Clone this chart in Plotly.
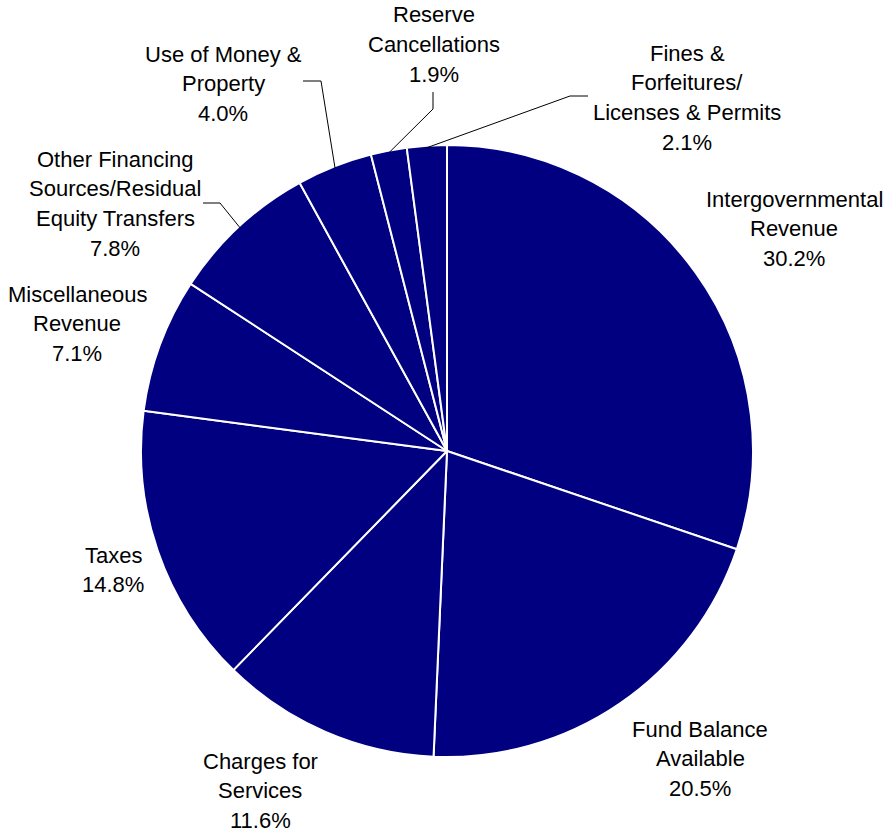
import math
import plotly.graph_objects as go

# Revenue sources, in clockwise order from 12 o'clock
categories = [
    "Intergovernmental Revenue",
    "Fund Balance Available",
    "Charges for Services",
    "Taxes",
    "Miscellaneous Revenue",
    "Other Financing Sources/Residual Equity Transfers",
    "Use of Money & Property",
    "Reserve Cancellations",
    "Fines & Forfeitures/ Licenses & Permits",
]
shares = [30.2, 20.5, 11.6, 14.8, 7.1, 7.8, 4.0, 1.9, 2.1]

# Wrapped label text (one entry per line, the percentage is appended)
label_lines = [
    ["Intergovernmental", "Revenue"],
    ["Fund Balance", "Available"],
    ["Charges for", "Services"],
    ["Taxes"],
    ["Miscellaneous", "Revenue"],
    ["Other Financing", "Sources/Residual", "Equity Transfers"],
    ["Use of Money &", "Property"],
    ["Reserve", "Cancellations"],
    ["Fines &", "Forfeitures/", "Licenses & Permits"],
]

W, H = 892, 833
CX, CY, R = 447, 451, 306          # pie centre and radius in pixels
FONT = dict(family="Arial, Liberation Sans, sans-serif", size=22, color="#000000")
LINE_STEP = 29.7

# Label block placement: centre x and first-line y, in pixels
label_pos = [
    (794, 199), (700, 729), (260, 761), (113, 555), (77, 294),
    (115, 159), (223, 54), (434, 15), (687, 53),
]
# Leader line elbows (label side) for the small slices; None = no leader
leader_elbows = [
    None, None, None, None, None,
    [(203, 203), (220, 203)],
    [(303, 81), (321, 81)],
    [(433, 92), (433, 109)],
    [(588, 96), (570, 96)],
]


def px(x):
    return x / W


def py(y):
    return 1 - y / H


fig = go.Figure(
    go.Pie(
        labels=categories,
        values=shares,
        sort=False,
        direction="clockwise",
        rotation=0,
        textinfo="none",
        marker=dict(colors=["#000080"] * len(shares), line=dict(color="#ffffff", width=2)),
        domain=dict(x=[px(CX - R), px(CX + R)], y=[py(CY + R), py(CY - R)]),
        showlegend=False,
        hovertemplate="%{label}: %{value:.1f}%<extra></extra>",
    )
)

annotations = []
shapes = []
total = sum(shares)
cum = 0.0
for name_lines, val, (lx, ly), elbow in zip(label_lines, shares, label_pos, leader_elbows):
    lines = name_lines + [f"{val:.1f}%"]
    for i, t in enumerate(lines):
        annotations.append(dict(
            x=px(lx), y=py(ly + i * LINE_STEP), xref="paper", yref="paper",
            text=t, showarrow=False, font=FONT, xanchor="center", yanchor="middle",
        ))
    mid = (cum + val / 2) / total * 2 * math.pi
    cum += val
    if elbow:
        ex = CX + (R - 2) * math.sin(mid)
        ey = CY - (R - 2) * math.cos(mid)
        pts = elbow + [(ex, ey)]
        path = "M " + " L ".join(f"{px(a):.5f},{py(b):.5f}" for a, b in pts)
        shapes.append(dict(type="path", path=path, xref="paper", yref="paper",
                           line=dict(color="#000000", width=1)))

fig.update_layout(
    width=W, height=H,
    margin=dict(l=0, r=0, t=0, b=0),
    paper_bgcolor="#ffffff",
    plot_bgcolor="#ffffff",
    annotations=annotations,
    shapes=shapes,
)

fig.write_html("out.html")
